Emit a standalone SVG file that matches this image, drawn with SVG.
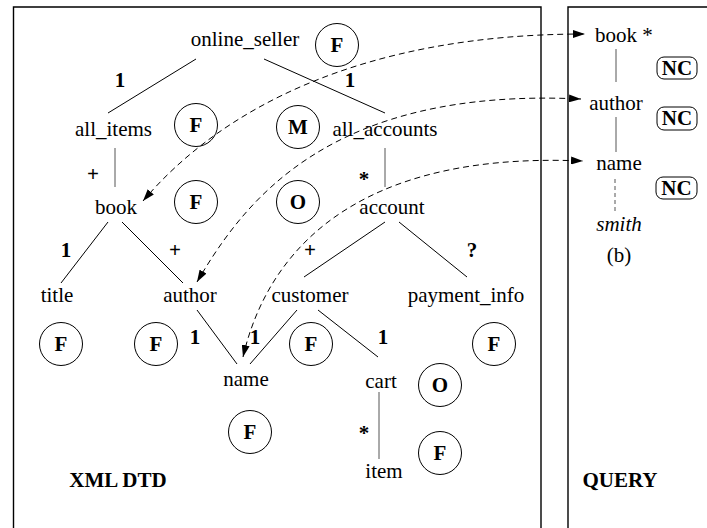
<svg xmlns="http://www.w3.org/2000/svg" width="707" height="528" viewBox="0 0 707 528">
<style>
.t{font-family:"Liberation Serif","Times New Roman",serif;font-size:21px;text-anchor:middle;fill:#000}
.b{font-weight:bold}
.i{font-style:italic}
.e{stroke:#000;stroke-width:1;fill:none}
.g{stroke:#555;stroke-width:1;fill:none}
.d{stroke:#000;stroke-width:1;fill:none;stroke-dasharray:6,4}
.c{fill:none;stroke:#000;stroke-width:1}
.nc{fill:none;stroke:#000;stroke-width:1}
.frame{stroke:#000;stroke-width:1.4;fill:none}
</style>
<defs>
<marker id="ah" viewBox="0 0 12 8" refX="12" refY="4" markerWidth="12" markerHeight="8" markerUnits="userSpaceOnUse" orient="auto-start-reverse">
<path d="M0,0 L12,4 L0,8 z" fill="#000"/>
</marker>
</defs>
<g id="frames">
<path class="frame" d="M13.5 528 V7 H541 V528"/>
<path class="frame" d="M568 528 V7 H707"/>
</g>
<g id="connectors">
<line class="e" x1="196" y1="59" x2="108" y2="113"/>
<line class="e" x1="264" y1="59" x2="385" y2="113"/>
<line class="g" x1="115" y1="148" x2="115" y2="187"/>
<line class="g" x1="385" y1="148" x2="385" y2="187"/>
<line class="e" x1="108" y1="222" x2="61" y2="283"/>
<line class="e" x1="122" y1="222" x2="183" y2="283"/>
<line class="e" x1="385" y1="222" x2="304" y2="277"/>
<line class="e" x1="399" y1="222" x2="467" y2="277"/>
<line class="e" x1="197" y1="310" x2="237" y2="364"/>
<line class="e" x1="297" y1="310" x2="250" y2="364"/>
<line class="e" x1="318" y1="310" x2="378" y2="357"/>
<line class="g" x1="379" y1="392" x2="379" y2="459"/>
<line class="g" x1="616" y1="49" x2="616" y2="82"/>
<line class="g" x1="616" y1="117" x2="616" y2="152"/>
<line class="g" x1="615" y1="179" x2="615" y2="212" stroke-dasharray="4,3"/>
<path class="d" d="M143 201 C220 110 360 34 585 34" marker-start="url(#ah)" marker-end="url(#ah)"/>
<path class="d" d="M197 282 C245 200 330 87 581 99" marker-start="url(#ah)" marker-end="url(#ah)"/>
<path class="d" d="M243 357 C262 275 330 150 583 161" marker-start="url(#ah)" marker-end="url(#ah)"/>
</g>
<g id="labels">
<text class="t b" x="120" y="87">1</text>
<text class="t b" x="350" y="87">1</text>
<text class="t b" x="93" y="181">+</text>
<text class="t b" x="364" y="186">*</text>
<text class="t b" x="66" y="257">1</text>
<text class="t b" x="175" y="257">+</text>
<text class="t b" x="310" y="257">+</text>
<text class="t b" x="472" y="257">?</text>
<text class="t b" x="195" y="344">1</text>
<text class="t b" x="255" y="344">1</text>
<text class="t b" x="383" y="344">1</text>
<text class="t b" x="364" y="440">*</text>
</g>
<g id="n-online_seller"><text class="t" x="245" y="46">online_seller</text><circle class="c" cx="337" cy="45" r="21.5"/><text class="t b" x="337" y="52">F</text></g>
<g id="n-all_items"><text class="t" x="113.5" y="136">all_items</text><circle class="c" cx="196" cy="125" r="21.5"/><text class="t b" x="196" y="132">F</text></g>
<g id="n-all_accounts"><text class="t" x="385" y="136">all_accounts</text><circle class="c" cx="298" cy="127" r="21.5"/><text class="t b" x="298" y="134">M</text></g>
<g id="n-book"><text class="t" x="116" y="214">book</text><circle class="c" cx="196" cy="202" r="21.5"/><text class="t b" x="196" y="209">F</text></g>
<g id="n-account"><text class="t" x="392" y="214">account</text><circle class="c" cx="298" cy="202" r="21.5"/><text class="t b" x="298" y="209">O</text></g>
<g id="n-title"><text class="t" x="57" y="302">title</text><circle class="c" cx="61" cy="344" r="21.5"/><text class="t b" x="61" y="351">F</text></g>
<g id="n-author"><text class="t" x="190" y="302">author</text><circle class="c" cx="156" cy="344" r="21.5"/><text class="t b" x="156" y="351">F</text></g>
<g id="n-customer"><text class="t" x="310" y="302">customer</text><circle class="c" cx="311" cy="344" r="21.5"/><text class="t b" x="311" y="351">F</text></g>
<g id="n-payment_info"><text class="t" x="466" y="302">payment_info</text><circle class="c" cx="494" cy="344" r="21.5"/><text class="t b" x="494" y="351">F</text></g>
<g id="n-name"><text class="t" x="246" y="386">name</text><circle class="c" cx="250" cy="432" r="21.5"/><text class="t b" x="250" y="439">F</text></g>
<g id="n-cart"><text class="t" x="381" y="388">cart</text><circle class="c" cx="440" cy="385" r="21.5"/><text class="t b" x="440" y="392">O</text></g>
<g id="n-item"><text class="t" x="384" y="478">item</text><circle class="c" cx="440" cy="453" r="21.5"/><text class="t b" x="440" y="460">F</text></g>
<g id="title-dtd"><text class="t b" x="118" y="487">XML DTD</text></g>
<g id="title-query"><text class="t b" x="620" y="487">QUERY</text></g>
<g id="q-book"><text class="t" x="595" y="42" text-anchor="start" style="text-anchor:start">book *</text><rect class="nc" x="657" y="57" width="40" height="22" rx="7"/><text class="t b" x="677" y="75">NC</text></g>
<g id="q-author"><text class="t" x="616" y="110">author</text><rect class="nc" x="657" y="107" width="40" height="23" rx="7"/><text class="t b" x="677" y="125">NC</text></g>
<g id="q-name"><text class="t" x="619" y="170">name</text><rect class="nc" x="656" y="177" width="41" height="22" rx="7"/><text class="t b" x="676.5" y="195">NC</text></g>
<g id="q-smith"><text class="t i" x="619" y="231">smith</text></g>
<g id="q-caption"><text class="t" x="619" y="262">(b)</text></g>
</svg>
